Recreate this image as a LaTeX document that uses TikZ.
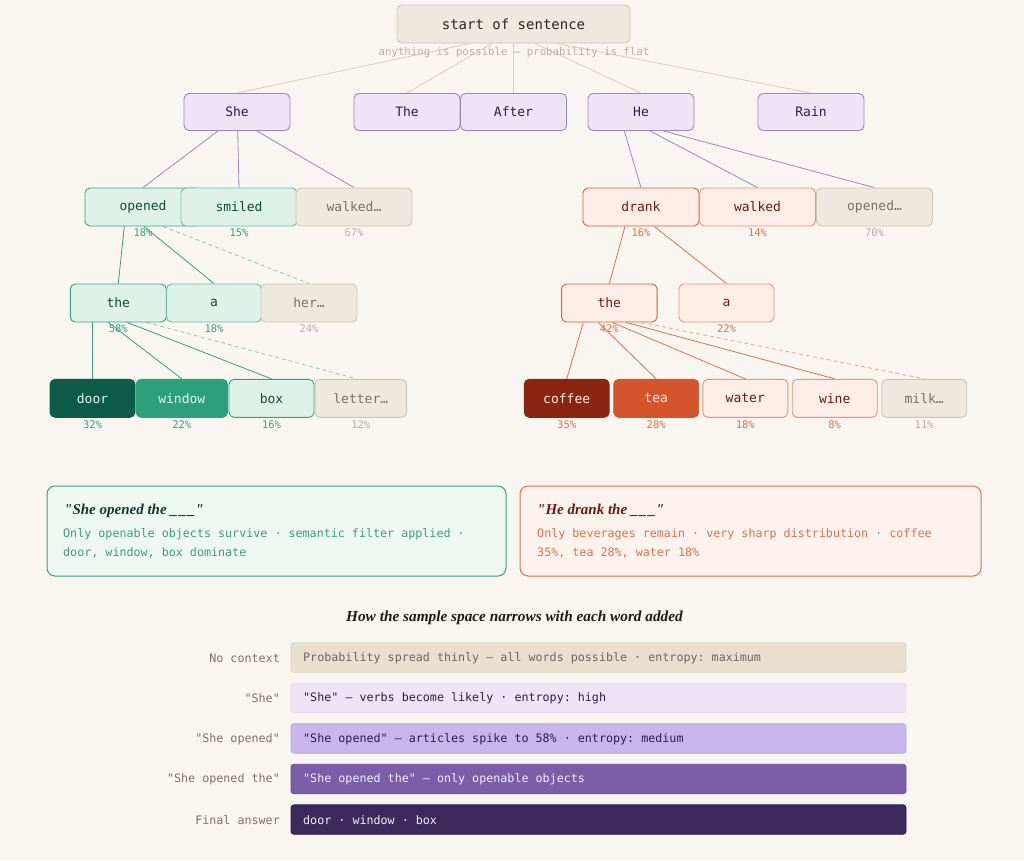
\documentclass[tikz,border=0pt]{standalone}
\usepackage{fontspec}
\setmonofont{DejaVu Sans Mono}
\setmainfont{Liberation Serif}[Ligatures=TeXOff]
\definecolor{bgc}{HTML}{F9F6F1}
\definecolor{grayfill}{HTML}{EDE8E0}
\definecolor{grayline}{HTML}{CDC5B8}
\definecolor{graytext}{HTML}{7A7268}
\definecolor{graypct}{HTML}{B8B0A6}
\definecolor{darktext}{HTML}{2A2520}
\definecolor{conngray}{HTML}{D6CEC3}
\definecolor{purfill}{HTML}{EDE5F5}
\definecolor{purline}{HTML}{9B85C6}
\definecolor{purtext}{HTML}{2A1F4E}
\definecolor{grnfill}{HTML}{DFF2EA}
\definecolor{grnline}{HTML}{3A9E7F}
\definecolor{grnline2}{HTML}{6BBFA2}
\definecolor{grntext}{HTML}{0F4A3A}
\definecolor{grnpct}{HTML}{3C9E80}
\definecolor{grndash}{HTML}{8CCBB4}
\definecolor{grndark}{HTML}{0E5C48}
\definecolor{grnmid}{HTML}{2BA07A}
\definecolor{grnlight}{HTML}{E6F4EE}
\definecolor{orfill}{HTML}{FCEDE7}
\definecolor{orline}{HTML}{D9603A}
\definecolor{orline2}{HTML}{E8937A}
\definecolor{ortext}{HTML}{6E1A0C}
\definecolor{orpct}{HTML}{E0704A}
\definecolor{ordash}{HTML}{EBA58C}
\definecolor{coffeec}{HTML}{8A2512}
\definecolor{teac}{HTML}{D4552B}
\definecolor{infoGfill}{HTML}{EEF7F2}
\definecolor{infoOfill}{HTML}{FDF3EE}
\definecolor{infoGtitle}{HTML}{0E3A2E}
\definecolor{infoOtitle}{HTML}{6B1A0A}
\definecolor{barA}{HTML}{E8DFCF}
\definecolor{barAline}{HTML}{DDD3C2}
\definecolor{barAtext}{HTML}{6F675D}
\definecolor{barB}{HTML}{EDE5F6}
\definecolor{barBline}{HTML}{E2D8F0}
\definecolor{barC}{HTML}{C6B6EB}
\definecolor{barCline}{HTML}{B8A6E2}
\definecolor{barD}{HTML}{7B5DA8}
\definecolor{barDline}{HTML}{6D4F9A}
\definecolor{barE}{HTML}{3D2A5D}
\definecolor{barEline}{HTML}{2B1D45}
\definecolor{barlight}{HTML}{F3EEFA}
\definecolor{labeltext}{HTML}{7A736A}
\definecolor{titletext}{HTML}{1E1A16}
\pgfdeclarelayer{bg}
\pgfdeclarelayer{lines}
\pgfsetlayers{bg,lines,main}
\newcommand{\blankline}{\_\kern1.2pt\_\kern1.2pt\_}
\tikzset{
  tok/.style={rectangle, rounded corners=5pt, line width=0.9pt, minimum height=38pt,
    inner sep=0pt, font=\ttfamily\fontsize{13}{15}\selectfont},
  graytok/.style={tok, fill=grayfill, draw=grayline, text=graytext},
  purtok/.style={tok, fill=purfill, draw=purline, text=purtext, minimum width=106pt, minimum height=37pt},
  grntok/.style={tok, fill=grnfill, draw=grnline, text=grntext},
  grntokb/.style={tok, fill=grnfill, draw=grnline2, text=grntext},
  ortok/.style={tok, fill=orfill, draw=orline, text=ortext},
  ortokb/.style={tok, fill=orfill, draw=orline2, text=ortext},
  pct/.style={inner sep=0pt, font=\ttfamily\fontsize{10.5}{12}\selectfont},
  gpct/.style={pct, text=grnpct},
  opct/.style={pct, text=orpct},
  ypct/.style={pct, text=graypct},
  gconn/.style={draw=conngray, line width=0.8pt},
  pconn/.style={draw=purline, line width=0.8pt},
  grconn/.style={draw=grnline, line width=0.8pt},
  grdash/.style={draw=grndash, line width=0.8pt, dash pattern=on 4pt off 3pt},
  orconn/.style={draw=orpct, line width=0.8pt},
  ordashed/.style={draw=ordash, line width=0.8pt, dash pattern=on 4pt off 3pt},
  infobox/.style={rectangle, rounded corners=8pt, line width=1pt, minimum width=459pt, minimum height=90pt, inner sep=0pt},
  infotitle/.style={anchor=west, inner sep=0pt, font=\rmfamily\bfseries\itshape\fontsize{15}{17}\selectfont},
  infobody/.style={anchor=west, inner sep=0pt, font=\ttfamily\fontsize{11.7}{14}\selectfont},
  barrect/.style={rectangle, rounded corners=3pt, line width=0.8pt, minimum height=29.5pt, minimum width=615pt, inner sep=0pt},
  bartext/.style={anchor=west, inner sep=0pt, font=\ttfamily\fontsize{11.7}{14}\selectfont},
  barlabel/.style={anchor=east, inner sep=0pt, text=labeltext, font=\ttfamily\fontsize{11.7}{14}\selectfont},
}
\begin{document}
\begin{tikzpicture}[x=1pt,y=-1pt]
\begin{pgfonlayer}{bg}
\fill[bgc] (0,0) rectangle (1024,860);
\end{pgfonlayer}
\useasboundingbox (0,0) rectangle (1024,860);

% top
\node[graytok, minimum width=233pt, text=darktext, font=\ttfamily\fontsize{14}{16}\selectfont] (start) at (513.5,24) {start of sentence};
\node[inner sep=0pt, text=graypct, font=\ttfamily\fontsize{10.7}{12}\selectfont] (sub) at (514,52.5) {anything is possible — probability is flat};

% row 1
\node[purtok] (she) at (237,112) {She};
\node[purtok] (theA) at (407,112) {The};
\node[purtok] (after) at (513.5,112) {After};
\node[purtok] (he) at (641,112) {He};
\node[purtok] (rain) at (811,112) {Rain};

% row 2 left
\node[grntok, minimum width=116pt] (opened) at (143,207) {opened};
\node[grntokb, minimum width=116pt] (smiled) at (239,207) {smiled};
\node[graytok, minimum width=116pt] (walkedL) at (354,207) {walked…};
\node[gpct] (pOpened) at (143,233) {18\%};
\node[gpct] (pSmiled) at (239,233) {15\%};
\node[ypct] (pWalkedL) at (354,233) {67\%};

% row 2 right
\node[ortok, minimum width=116pt] (drank) at (641,207) {drank};
\node[ortokb, minimum width=116pt] (walkedR) at (757.5,207) {walked};
\node[graytok, minimum width=116pt] (openedR) at (874.5,207) {opened…};
\node[opct] (pDrank) at (641,233) {16\%};
\node[opct] (pWalkedR) at (757.5,233) {14\%};
\node[ypct] (pOpenedR) at (874.5,233) {70\%};

% row 3 left
\node[grntok, minimum width=96pt] (theL) at (118.3,303) {the};
\node[grntokb, minimum width=95pt] (aL) at (214,303) {a};
\node[graytok, minimum width=96pt] (herL) at (309,303) {her…};
\node[gpct] (pTheL) at (118.3,329) {58\%};
\node[gpct] (pAL) at (214,329) {18\%};
\node[ypct] (pHerL) at (309,329) {24\%};

% row 3 right
\node[ortok, minimum width=95.5pt] (theR) at (609.3,303) {the};
\node[ortokb, minimum width=95pt] (aR) at (726.5,303) {a};
\node[opct] (pTheR) at (609.3,329) {42\%};
\node[opct] (pAR) at (726.5,329) {22\%};

% row 4 left
\node[tok, fill=grndark, draw=grndark, text=grnlight, minimum width=85pt] (door) at (92.5,398.3) {door};
\node[tok, fill=grnmid, draw=grnmid, text=grnlight, minimum width=91.5pt] (window) at (181.8,398.3) {window};
\node[grntok, minimum width=85pt] (box) at (271.5,398.3) {box};
\node[graytok, minimum width=91.5pt] (letter) at (360.8,398.3) {letter…};
\node[gpct] (pDoor) at (92.5,424.5) {32\%};
\node[gpct] (pWindow) at (181.8,424.5) {22\%};
\node[gpct] (pBox) at (271.5,424.5) {16\%};
\node[ypct] (pLetter) at (360.8,424.5) {12\%};

% row 4 right
\node[tok, fill=coffeec, draw=coffeec, text=orfill, minimum width=85pt] (coffee) at (566.7,398.3) {coffee};
\node[tok, fill=teac, draw=teac, text=orfill, minimum width=85pt] (tea) at (656.2,398.3) {tea};
\node[ortokb, minimum width=85pt] (water) at (745.3,398.3) {water};
\node[ortokb, minimum width=85pt] (wine) at (834.7,398.3) {wine};
\node[graytok, minimum width=85pt] (milk) at (924.2,398.3) {milk…};
\node[opct] (pCoffee) at (566.7,424.5) {35\%};
\node[opct] (pTea) at (656.2,424.5) {28\%};
\node[opct] (pWater) at (745.3,424.5) {18\%};
\node[opct] (pWine) at (834.7,424.5) {8\%};
\node[ypct] (pMilk) at (924.2,424.5) {11\%};

% connectors
\begin{pgfonlayer}{lines}
\draw[gconn] ([xshift=-43.5pt]start.south) -- (she.north);
\draw[gconn] ([xshift=-21.5pt]start.south) -- (theA.north);
\draw[gconn] (start.south) -- (after.north);
\draw[gconn] ([xshift=21.5pt]start.south) -- (he.north);
\draw[gconn] ([xshift=43.5pt]start.south) -- (rain.north);

\draw[pconn] ([xshift=-19pt]she.south) -- (opened.north);
\draw[pconn] ([xshift=0.7pt]she.south) -- (smiled.north);
\draw[pconn] ([xshift=19.7pt]she.south) -- (walkedL.north);
\draw[pconn] ([xshift=-16.7pt]he.south) -- (drank.north);
\draw[pconn] ([xshift=9pt]he.south) -- (walkedR.north);
\draw[pconn] ([xshift=22.3pt]he.south) -- (openedR.north);

\draw[grconn] ([xshift=-18.7pt]opened.south) -- (theL.north);
\draw[grconn] ([xshift=1pt]opened.south) -- (aL.north);
\draw[grdash] ([xshift=20pt]opened.south) -- (herL.north);
\draw[orconn] ([xshift=-16pt]drank.south) -- (theR.north);
\draw[orconn] ([xshift=13.3pt]drank.south) -- (aR.north);

\draw[grconn] ([xshift=-25.8pt]theL.south) -- (door.north);
\draw[grconn] ([xshift=-10pt]theL.south) -- (window.north);
\draw[grconn] ([xshift=9pt]theL.south) -- (box.north);
\draw[grdash] ([xshift=28.4pt]theL.south) -- ([xshift=-4pt]letter.north);

\draw[orconn] ([xshift=-26pt]theR.south) -- (coffee.north);
\draw[orconn] ([xshift=-11pt]theR.south) -- (tea.north);
\draw[orconn] ([xshift=3pt]theR.south) -- (water.north);
\draw[orconn] ([xshift=17pt]theR.south) -- (wine.north);
\draw[ordashed] ([xshift=32pt]theR.south) -- (milk.north);
\end{pgfonlayer}

% info boxes
\node[infobox, fill=infoGfill, draw=grnline] (boxL) at (276.5,531) {};
\node[infotitle, text=infoGtitle] (boxLt) at (64,510.5) {"She opened the \blankline"};
\node[infobody, text=grnpct] (boxLa) at (63,534.5) {Only openable objects survive · semantic filter applied ·};
\node[infobody, text=grnpct] (boxLb) at (63,552.5) {door, window, box dominate};

\node[infobox, minimum width=461pt, fill=infoOfill, draw=orpct] (boxR) at (750.5,531) {};
\node[infotitle, text=infoOtitle] (boxRt) at (537,510.5) {"He drank the \blankline"};
\node[infobody, text=orpct] (boxRa) at (537,534.5) {Only beverages remain · very sharp distribution · coffee};
\node[infobody, text=orpct] (boxRb) at (537,552.5) {35\%, tea 28\%, water 18\%};

% narrowing
\node[inner sep=0pt, text=titletext, font=\rmfamily\bfseries\itshape\fontsize{15.3}{18}\selectfont] (ntitle) at (514.5,617.5) {How the sample space narrows with each word added};

\node[barrect, fill=barA, draw=barAline] (bar1) at (598.5,657.5) {};
\node[barrect, fill=barB, draw=barBline] (bar2) at (598.5,698) {};
\node[barrect, fill=barC, draw=barCline] (bar3) at (598.5,738.5) {};
\node[barrect, fill=barD, draw=barDline] (bar4) at (598.5,779) {};
\node[barrect, fill=barE, draw=barEline] (bar5) at (598.5,819.5) {};

\node[bartext, text=barAtext] (bt1) at (303,658) {Probability spread thinly — all words possible · entropy: maximum};
\node[bartext, text=purtext] (bt2) at (303,698.5) {"She" — verbs become likely · entropy: high};
\node[bartext, text=purtext] (bt3) at (303,739) {"She opened" — articles spike to 58\% · entropy: medium};
\node[bartext, text=barlight] (bt4) at (303,779.5) {"She opened the" — only openable objects};
\node[bartext, text=barlight] (bt5) at (303,820) {door · window · box};

\node[barlabel] (l1) at (280,658) {No context};
\node[barlabel] (l2) at (280,698.5) {"She"};
\node[barlabel] (l3) at (280,739) {"She opened"};
\node[barlabel] (l4) at (280,779.5) {"She opened the"};
\node[barlabel] (l5) at (280,820) {Final answer};
\end{tikzpicture}
\end{document}
